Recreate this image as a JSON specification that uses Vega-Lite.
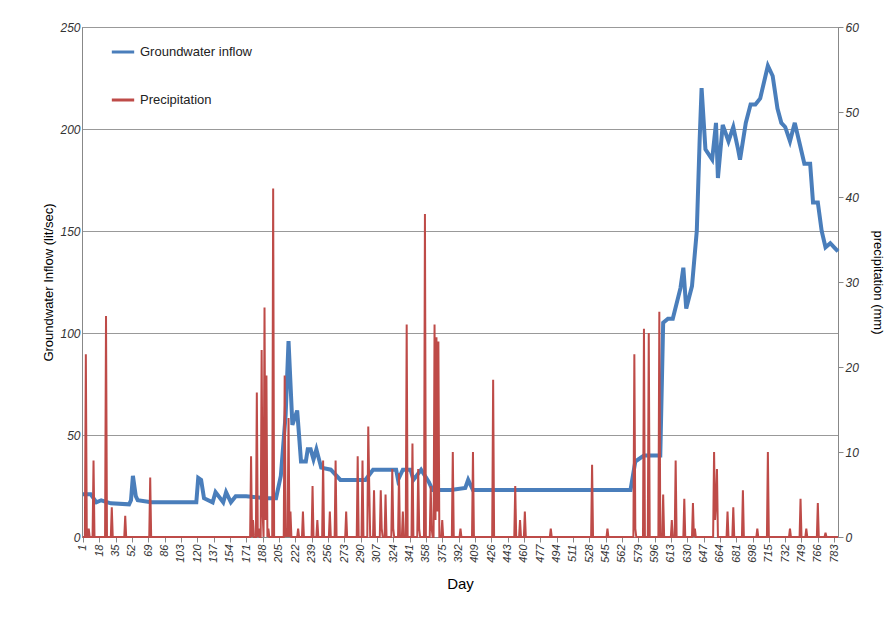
{
  "$schema": "https://vega.github.io/schema/vega-lite/v6.json",
  "width": 756,
  "height": 510,
  "autosize": "none",
  "padding": {"left": 82, "top": 27, "right": 47, "bottom": 86},
  "background": "white",
  "datasets": {
    "gw": [
      {"day": 1, "gw": 21}, {"day": 9, "gw": 21}, {"day": 15, "gw": 17}, {"day": 20, "gw": 18}, {"day": 30, "gw": 16.5},
      {"day": 49, "gw": 16}, {"day": 51, "gw": 18}, {"day": 53, "gw": 30}, {"day": 56, "gw": 20}, {"day": 58, "gw": 18},
      {"day": 72, "gw": 17}, {"day": 103, "gw": 17}, {"day": 119, "gw": 17}, {"day": 121, "gw": 29}, {"day": 124, "gw": 28},
      {"day": 127, "gw": 19}, {"day": 136, "gw": 17}, {"day": 139, "gw": 22}, {"day": 147, "gw": 17}, {"day": 150, "gw": 22},
      {"day": 155, "gw": 17}, {"day": 160, "gw": 20}, {"day": 171, "gw": 20}, {"day": 191, "gw": 19}, {"day": 202, "gw": 19},
      {"day": 207, "gw": 30}, {"day": 212, "gw": 60}, {"day": 215, "gw": 96}, {"day": 219, "gw": 55}, {"day": 224, "gw": 62},
      {"day": 228, "gw": 37}, {"day": 233, "gw": 37}, {"day": 235, "gw": 43}, {"day": 238, "gw": 43}, {"day": 241, "gw": 38},
      {"day": 244, "gw": 43}, {"day": 249, "gw": 34}, {"day": 259, "gw": 33}, {"day": 269, "gw": 28}, {"day": 295, "gw": 28},
      {"day": 303, "gw": 33}, {"day": 327, "gw": 33}, {"day": 329, "gw": 28}, {"day": 334, "gw": 33}, {"day": 342, "gw": 33},
      {"day": 345, "gw": 28}, {"day": 353, "gw": 33}, {"day": 361, "gw": 27}, {"day": 365, "gw": 23}, {"day": 384, "gw": 23},
      {"day": 399, "gw": 24}, {"day": 402, "gw": 28}, {"day": 407, "gw": 23}, {"day": 571, "gw": 23}, {"day": 576, "gw": 37},
      {"day": 585, "gw": 40}, {"day": 602, "gw": 40}, {"day": 605, "gw": 105}, {"day": 610, "gw": 107}, {"day": 615, "gw": 107},
      {"day": 623, "gw": 122}, {"day": 626, "gw": 132}, {"day": 629, "gw": 112}, {"day": 635, "gw": 123}, {"day": 640, "gw": 150},
      {"day": 643, "gw": 195}, {"day": 645, "gw": 220}, {"day": 649, "gw": 190}, {"day": 656, "gw": 185}, {"day": 660, "gw": 203},
      {"day": 662, "gw": 176}, {"day": 667, "gw": 202}, {"day": 673, "gw": 194}, {"day": 678, "gw": 201}, {"day": 683, "gw": 190},
      {"day": 685, "gw": 185}, {"day": 691, "gw": 203}, {"day": 696, "gw": 212}, {"day": 701, "gw": 212}, {"day": 706, "gw": 215},
      {"day": 711, "gw": 225}, {"day": 714, "gw": 231}, {"day": 719, "gw": 226}, {"day": 724, "gw": 210}, {"day": 728, "gw": 203},
      {"day": 732, "gw": 201}, {"day": 737, "gw": 194}, {"day": 742, "gw": 203}, {"day": 747, "gw": 193}, {"day": 752, "gw": 183},
      {"day": 758, "gw": 183}, {"day": 761, "gw": 164}, {"day": 766, "gw": 164}, {"day": 770, "gw": 150}, {"day": 774, "gw": 142},
      {"day": 779, "gw": 144}, {"day": 783, "gw": 142}, {"day": 787, "gw": 140}
    ],
    "pr": [
      {"day": 1, "p": 0}, {"day": 3, "p": 0}, {"day": 4, "p": 21.5}, {"day": 5, "p": 0}, {"day": 6, "p": 0}, {"day": 7, "p": 1}, {"day": 8, "p": 0},
      {"day": 11, "p": 0}, {"day": 12, "p": 9}, {"day": 13, "p": 0}, {"day": 24, "p": 0}, {"day": 25, "p": 26}, {"day": 26, "p": 0},
      {"day": 30, "p": 0}, {"day": 31, "p": 3.5}, {"day": 32, "p": 0}, {"day": 44, "p": 0}, {"day": 45, "p": 2.5}, {"day": 46, "p": 0},
      {"day": 70, "p": 0}, {"day": 71, "p": 7}, {"day": 72, "p": 0},
      {"day": 175, "p": 0}, {"day": 176, "p": 9.5}, {"day": 177, "p": 0}, {"day": 178, "p": 2}, {"day": 179, "p": 0}, {"day": 181, "p": 0},
      {"day": 182, "p": 17}, {"day": 183, "p": 0}, {"day": 184, "p": 1}, {"day": 185, "p": 0}, {"day": 186, "p": 0}, {"day": 187, "p": 22},
      {"day": 188, "p": 3}, {"day": 189, "p": 0}, {"day": 190, "p": 27}, {"day": 191, "p": 2}, {"day": 192, "p": 19}, {"day": 193, "p": 0},
      {"day": 194, "p": 1}, {"day": 195, "p": 0}, {"day": 198, "p": 0}, {"day": 199, "p": 41}, {"day": 200, "p": 0},
      {"day": 210, "p": 0}, {"day": 211, "p": 19}, {"day": 212, "p": 0}, {"day": 213, "p": 1}, {"day": 214, "p": 0}, {"day": 215, "p": 14},
      {"day": 216, "p": 0}, {"day": 217, "p": 3}, {"day": 218, "p": 0}, {"day": 224, "p": 0}, {"day": 225, "p": 1}, {"day": 226, "p": 0},
      {"day": 229, "p": 0}, {"day": 230, "p": 3}, {"day": 231, "p": 0}, {"day": 239, "p": 0}, {"day": 240, "p": 6}, {"day": 241, "p": 0},
      {"day": 244, "p": 0}, {"day": 245, "p": 2}, {"day": 246, "p": 0}, {"day": 250, "p": 0}, {"day": 251, "p": 9}, {"day": 252, "p": 0},
      {"day": 257, "p": 0}, {"day": 258, "p": 3}, {"day": 259, "p": 0}, {"day": 263, "p": 0}, {"day": 264, "p": 9}, {"day": 265, "p": 0},
      {"day": 274, "p": 0}, {"day": 275, "p": 3}, {"day": 276, "p": 0}, {"day": 286, "p": 0}, {"day": 287, "p": 9.5}, {"day": 288, "p": 0},
      {"day": 291, "p": 0}, {"day": 292, "p": 9}, {"day": 293, "p": 0}, {"day": 297, "p": 0}, {"day": 298, "p": 13}, {"day": 299, "p": 6},
      {"day": 300, "p": 0}, {"day": 303, "p": 0}, {"day": 304, "p": 5.5}, {"day": 305, "p": 0}, {"day": 310, "p": 0}, {"day": 311, "p": 5.5},
      {"day": 312, "p": 1}, {"day": 313, "p": 0}, {"day": 315, "p": 0}, {"day": 316, "p": 5}, {"day": 317, "p": 0}, {"day": 322, "p": 0},
      {"day": 323, "p": 8}, {"day": 324, "p": 1}, {"day": 325, "p": 0}, {"day": 329, "p": 0}, {"day": 330, "p": 7.5}, {"day": 331, "p": 0},
      {"day": 333, "p": 0}, {"day": 334, "p": 3}, {"day": 335, "p": 0}, {"day": 337, "p": 0}, {"day": 338, "p": 25}, {"day": 339, "p": 0},
      {"day": 343, "p": 0}, {"day": 344, "p": 11}, {"day": 345, "p": 0}, {"day": 349, "p": 0}, {"day": 350, "p": 8}, {"day": 351, "p": 1},
      {"day": 352, "p": 0}, {"day": 356, "p": 0}, {"day": 357, "p": 38}, {"day": 358, "p": 0}, {"day": 362, "p": 0}, {"day": 363, "p": 6},
      {"day": 364, "p": 1}, {"day": 365, "p": 0}, {"day": 366, "p": 0}, {"day": 367, "p": 25}, {"day": 368, "p": 2}, {"day": 369, "p": 23.5},
      {"day": 370, "p": 3}, {"day": 371, "p": 23}, {"day": 372, "p": 0}, {"day": 374, "p": 0}, {"day": 375, "p": 2}, {"day": 376, "p": 0},
      {"day": 385, "p": 0}, {"day": 386, "p": 10}, {"day": 387, "p": 0}, {"day": 393, "p": 0}, {"day": 394, "p": 1}, {"day": 395, "p": 0},
      {"day": 406, "p": 0}, {"day": 407, "p": 10}, {"day": 408, "p": 0}, {"day": 427, "p": 0}, {"day": 428, "p": 18.5}, {"day": 429, "p": 0},
      {"day": 450, "p": 0}, {"day": 451, "p": 6}, {"day": 452, "p": 0}, {"day": 455, "p": 0}, {"day": 456, "p": 2}, {"day": 457, "p": 0},
      {"day": 460, "p": 0}, {"day": 461, "p": 3}, {"day": 462, "p": 0}, {"day": 487, "p": 0}, {"day": 488, "p": 1}, {"day": 489, "p": 0},
      {"day": 530, "p": 0}, {"day": 531, "p": 8.5}, {"day": 532, "p": 0}, {"day": 546, "p": 0}, {"day": 547, "p": 1}, {"day": 548, "p": 0},
      {"day": 574, "p": 0}, {"day": 575, "p": 21.5}, {"day": 576, "p": 1}, {"day": 577, "p": 0},
      {"day": 584, "p": 0}, {"day": 585, "p": 24.5}, {"day": 586, "p": 0}, {"day": 589, "p": 0}, {"day": 590, "p": 24}, {"day": 591, "p": 0},
      {"day": 600, "p": 0}, {"day": 601, "p": 26.5}, {"day": 602, "p": 0}, {"day": 604, "p": 0}, {"day": 605, "p": 5}, {"day": 606, "p": 0},
      {"day": 613, "p": 0}, {"day": 614, "p": 2}, {"day": 615, "p": 0}, {"day": 617, "p": 0}, {"day": 618, "p": 9}, {"day": 619, "p": 0},
      {"day": 626, "p": 0}, {"day": 627, "p": 4.5}, {"day": 628, "p": 0}, {"day": 635, "p": 0}, {"day": 636, "p": 4}, {"day": 637, "p": 0},
      {"day": 638, "p": 1}, {"day": 639, "p": 0}, {"day": 657, "p": 0}, {"day": 658, "p": 10}, {"day": 659, "p": 2}, {"day": 660, "p": 4},
      {"day": 661, "p": 8}, {"day": 662, "p": 0}, {"day": 671, "p": 0}, {"day": 672, "p": 3}, {"day": 673, "p": 0}, {"day": 677, "p": 0},
      {"day": 678, "p": 3.5}, {"day": 679, "p": 0}, {"day": 687, "p": 0}, {"day": 688, "p": 5.5}, {"day": 689, "p": 0}, {"day": 702, "p": 0},
      {"day": 703, "p": 1}, {"day": 704, "p": 0}, {"day": 713, "p": 0}, {"day": 714, "p": 10}, {"day": 715, "p": 0}, {"day": 736, "p": 0},
      {"day": 737, "p": 1}, {"day": 738, "p": 0}, {"day": 747, "p": 0}, {"day": 748, "p": 4.5}, {"day": 749, "p": 0}, {"day": 753, "p": 0},
      {"day": 754, "p": 1}, {"day": 755, "p": 0}, {"day": 765, "p": 0}, {"day": 766, "p": 4}, {"day": 767, "p": 0}, {"day": 773, "p": 0},
      {"day": 774, "p": 0.5}, {"day": 775, "p": 0}, {"day": 787, "p": 0}
    ]
  },
  "encoding": {
    "x": {
      "field": "day", "type": "quantitative",
      "scale": {"domain": [0, 787], "nice": false, "zero": false},
      "axis": {
        "title": "Day", "titleFontSize": 15, "titleFontWeight": "normal", "titlePadding": 14,
        "values": [1, 18, 35, 52, 69, 86, 103, 120, 137, 154, 171, 188, 205, 222, 239, 256, 273, 290, 307, 324, 341, 358, 375, 392, 409, 426, 443, 460, 477, 494, 511, 528, 545, 562, 579, 596, 613, 630, 647, 664, 681, 698, 715, 732, 749, 766, 783],
        "labelAngle": -90, "labelFontStyle": "italic", "labelFontSize": 11, "grid": false,
        "domainColor": "#888", "tickColor": "#888", "labelColor": "#333"
      }
    }
  },
  "layer": [
    {
      "data": {"name": "gw"},
      "mark": {"type": "line", "strokeWidth": 4},
      "encoding": {
        "y": {
          "field": "gw", "type": "quantitative",
          "scale": {"domain": [0, 250]},
          "axis": {"title": "Groundwater Inflow (lit/sec)", "titleFontSize": 13, "titleFontWeight": "normal", "values": [0, 50, 100, 150, 200, 250], "labelFontStyle": "italic", "labelFontSize": 12, "gridColor": "#999", "domainColor": "#888", "ticks": false, "labelColor": "#333"}
        },
        "color": {"datum": "Groundwater inflow"}
      }
    },
    {
      "data": {"name": "pr"},
      "mark": {"type": "line", "strokeWidth": 2},
      "encoding": {
        "y": {
          "field": "p", "type": "quantitative",
          "scale": {"domain": [0, 60]},
          "axis": {"orient": "right", "title": "precipitation (mm)", "titleFontSize": 13, "titleFontWeight": "normal", "titlePadding": 12, "values": [0, 10, 20, 30, 40, 50, 60], "labelFontStyle": "italic", "labelFontSize": 12, "grid": false, "domainColor": "#888", "tickColor": "#888", "labelColor": "#333"}
        },
        "color": {"datum": "Precipitation"}
      }
    }
  ],
  "resolve": {"scale": {"y": "independent"}},
  "config": {
    "font": "Liberation Sans",
    "view": {"stroke": "#888"},
    "range": {"category": ["#4a7ebb", "#be4b48"]},
    "legend": {
      "orient": "none", "legendX": 28, "legendY": 12, "title": null,
      "symbolType": "stroke", "symbolSize": 500, "symbolStrokeWidth": 3,
      "labelFontSize": 13, "rowPadding": 28, "labelColor": "#222"
    }
  }
}
